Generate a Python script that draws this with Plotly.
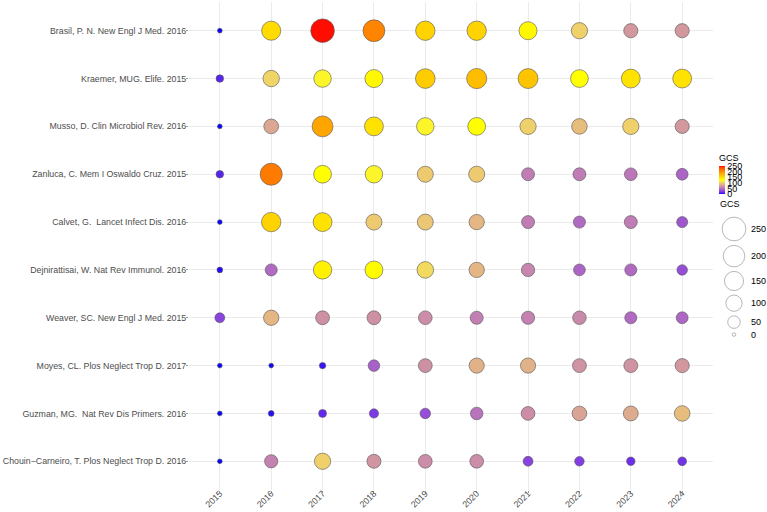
import numpy as np
import plotly.graph_objects as go

years = ["2015", "2016", "2017", "2018", "2019", "2020", "2021", "2022", "2023", "2024"]
articles = [
    "Brasil, P. N. New Engl J Med. 2016",
    "Kraemer, MUG. Elife. 2015",
    "Musso, D. Clin Microbiol Rev. 2016",
    "Zanluca, C. Mem I Oswaldo Cruz. 2015",
    "Calvet, G.  Lancet Infect Dis. 2016",
    "Dejnirattisai, W. Nat Rev Immunol. 2016",
    "Weaver, SC. New Engl J Med. 2015",
    "Moyes, CL. Plos Neglect Trop D. 2017",
    "Guzman, MG.  Nat Rev Dis Primers. 2016",
    "Chouin\u2212Carneiro, T. Plos Neglect Trop D. 2016",
]

gcs_brasil = [1, 150, 248, 205, 155, 155, 130, 100, 70, 70]
gcs_kraemer = [10, 102, 120, 130, 160, 170, 165, 125, 145, 145]
gcs_musso = [1, 78, 185, 145, 120, 125, 100, 90, 100, 70]
gcs_zanluca = [10, 210, 125, 120, 97, 97, 55, 55, 52, 42]
gcs_calvet = [1, 155, 145, 97, 95, 86, 55, 45, 55, 35]
gcs_dejnirattisai = [3, 45, 135, 127, 105, 86, 60, 42, 45, 30]
gcs_weaver = [25, 86, 66, 66, 64, 56, 58, 62, 45, 43]
gcs_moyes = [1, 1, 5, 40, 66, 84, 84, 67, 67, 70]
gcs_guzman = [1, 3, 12, 20, 30, 50, 64, 76, 80, 90]
gcs_chouin = [1, 58, 100, 68, 64, 64, 25, 22, 15, 17]

size_legend_values = [250, 200, 150, 100, 50, 0]
colorbar_ticks = [0, 50, 100, 150, 200, 250]

rows = [gcs_brasil, gcs_kraemer, gcs_musso, gcs_zanluca, gcs_calvet,
        gcs_dejnirattisai, gcs_weaver, gcs_moyes, gcs_guzman, gcs_chouin]

CMIN, CMAX = 0, 250


# ---- Lab-interpolated colour scale (blue -> yellow -> red) ----
def srgb_to_lab(rgb):
    c = np.array(rgb, dtype=float) / 255.0
    lin = np.where(c <= 0.04045, c / 12.92, ((c + 0.055) / 1.055) ** 2.4)
    M = np.array([[0.4124564, 0.3575761, 0.1804375],
                  [0.2126729, 0.7151522, 0.0721750],
                  [0.0193339, 0.1191920, 0.9503041]])
    xyz = M @ lin
    xyz = xyz / np.array([0.95047, 1.0, 1.08883])
    d = 6 / 29
    f = np.where(xyz > d ** 3, np.cbrt(xyz), xyz / (3 * d * d) + 4 / 29)
    return np.array([116 * f[1] - 16, 500 * (f[0] - f[1]), 200 * (f[1] - f[2])])


def lab_to_srgb(lab):
    L, a, b = lab
    fy = (L + 16) / 116
    fx = fy + a / 500
    fz = fy - b / 200
    d = 6 / 29
    f = np.array([fx, fy, fz])
    xyz = np.where(f > d, f ** 3, 3 * d * d * (f - 4 / 29))
    xyz = xyz * np.array([0.95047, 1.0, 1.08883])
    Minv = np.array([[3.2404542, -1.5371385, -0.4985314],
                     [-0.9692660, 1.8760108, 0.0415560],
                     [0.0556434, -0.2040259, 1.0572252]])
    lin = np.clip(Minv @ xyz, 0, 1)
    c = np.where(lin <= 0.0031308, 12.92 * lin, 1.055 * lin ** (1 / 2.4) - 0.055)
    c = np.clip(np.round(c * 255), 0, 255).astype(int)
    return "rgb(%d,%d,%d)" % tuple(c)


anchors = [(0.0, (0, 0, 255)), (0.5, (255, 255, 0)), (1.0, (255, 0, 0))]
colorscale = []
for t in np.linspace(0, 1, 41):
    for (t0, c0), (t1, c1) in zip(anchors[:-1], anchors[1:]):
        if t0 <= t <= t1:
            u = (t - t0) / (t1 - t0)
            lab = (1 - u) * srgb_to_lab(c0) + u * srgb_to_lab(c1)
            colorscale.append([float(t), lab_to_srgb(lab)])
            break


def size_px(v):
    v = np.asarray(v, dtype=float)
    return 3.5 + 20.2 * np.sqrt(np.clip(v, 0, None) / CMAX)


xs, ys, vals = [], [], []
for art, row in zip(articles, rows):
    for yr, v in zip(years, row):
        xs.append(yr)
        ys.append(art)
        vals.append(v)

FONT = "Liberation Sans, Arial, sans-serif"
TXT = "#4d4d4d"

W, H = 767, 512
ML, MR, MT, MB = 189, 0, 2, 22
paper_w = W - ML - MR
paper_h = H - MT - MB
panel_w = 524
dom_x = panel_w / paper_w

# colour bar block (title + bar) spans roughly these pixel rows
cb_top, cb_bot = 151, 194
cb_center = (cb_top + cb_bot) / 2

fig = go.Figure()
fig.add_trace(go.Scatter(
    x=xs, y=ys, mode="markers",
    marker=dict(
        size=size_px(vals), sizemode="diameter",
        color=vals, cmin=CMIN, cmax=CMAX, colorscale=colorscale,
        line=dict(color="#555555", width=0.6),
        opacity=1,
        showscale=True,
        colorbar=dict(
            title=dict(text="GCS", side="top", font=dict(family=FONT, size=9, color="#000")),
            thicknessmode="pixels", thickness=6,
            lenmode="pixels", len=cb_bot - cb_top,
            x=(719 - ML) / paper_w, xanchor="left", xpad=0,
            y=(MT + paper_h - cb_center) / paper_h, yanchor="middle", ypad=0,
            tickmode="array", tickvals=colorbar_ticks,
            ticktext=[str(t) for t in colorbar_ticks],
            ticks="", ticklen=0,
            tickfont=dict(family=FONT, size=9, color="#000"),
            outlinewidth=0,
        ),
    ),
    showlegend=False, hoverinfo="x+y+text", text=[str(v) for v in vals],
    xaxis="x", yaxis="y",
))

# ---- size legend (drawn in its own small axes, pixel units) ----
leg_sizes = size_px(size_legend_values)
gap = 4.5
leg_y = [229.0]
for s0, s1 in zip(leg_sizes[:-1], leg_sizes[1:]):
    leg_y.append(leg_y[-1] + (s0 + s1) / 2 + gap)

fig.add_trace(go.Scatter(
    x=[734] * len(size_legend_values), y=leg_y, mode="markers",
    marker=dict(size=leg_sizes, sizemode="diameter", color="white",
                line=dict(color="#555555", width=0.6)),
    showlegend=False, hoverinfo="skip",
    xaxis="x2", yaxis="y2",
))

annotations = [dict(x=718, y=204, xref="x2", yref="y2", text="GCS", showarrow=False,
                    xanchor="left", yanchor="middle",
                    font=dict(family=FONT, size=9, color="#000"))]
for v, yy in zip(size_legend_values, leg_y):
    annotations.append(dict(x=749, y=yy, xref="x2", yref="y2", text=str(v), showarrow=False,
                            xanchor="left", yanchor="middle",
                            font=dict(family=FONT, size=9, color="#000")))

fig.update_layout(
    width=W, height=H,
    margin=dict(l=ML, r=MR, t=MT, b=MB, autoexpand=False),
    paper_bgcolor="white", plot_bgcolor="white",
    xaxis=dict(
        domain=[0, dom_x], type="category", categoryorder="array", categoryarray=years,
        range=[-0.6, len(years) - 0.4],
        showgrid=True, gridcolor="#ebebeb", gridwidth=1, zeroline=False, showline=False,
        ticks="outside", ticklen=2, tickcolor="#999999", tickwidth=0.6,
        ticklabelstandoff=-8,
        tickangle=-45, tickfont=dict(family=FONT, size=8.8, color=TXT),
        automargin=False,
    ),
    yaxis=dict(
        type="category", categoryorder="array", categoryarray=articles,
        range=[len(articles) - 0.4, -0.6],
        showgrid=True, gridcolor="#ebebeb", gridwidth=1, zeroline=False, showline=False,
        ticks="outside", ticklen=2, tickcolor="#999999", tickwidth=0.6,
        ticklabelstandoff=-2,
        tickfont=dict(family=FONT, size=8.8, color=TXT),
        automargin=False,
    ),
    xaxis2=dict(domain=[dom_x, 1], range=[ML + panel_w, W], anchor="y2",
                visible=False, fixedrange=True),
    yaxis2=dict(domain=[0, 1], range=[MT + paper_h, MT], anchor="x2",
                visible=False, fixedrange=True),
    annotations=annotations,
)

fig.write_html("out.html")
